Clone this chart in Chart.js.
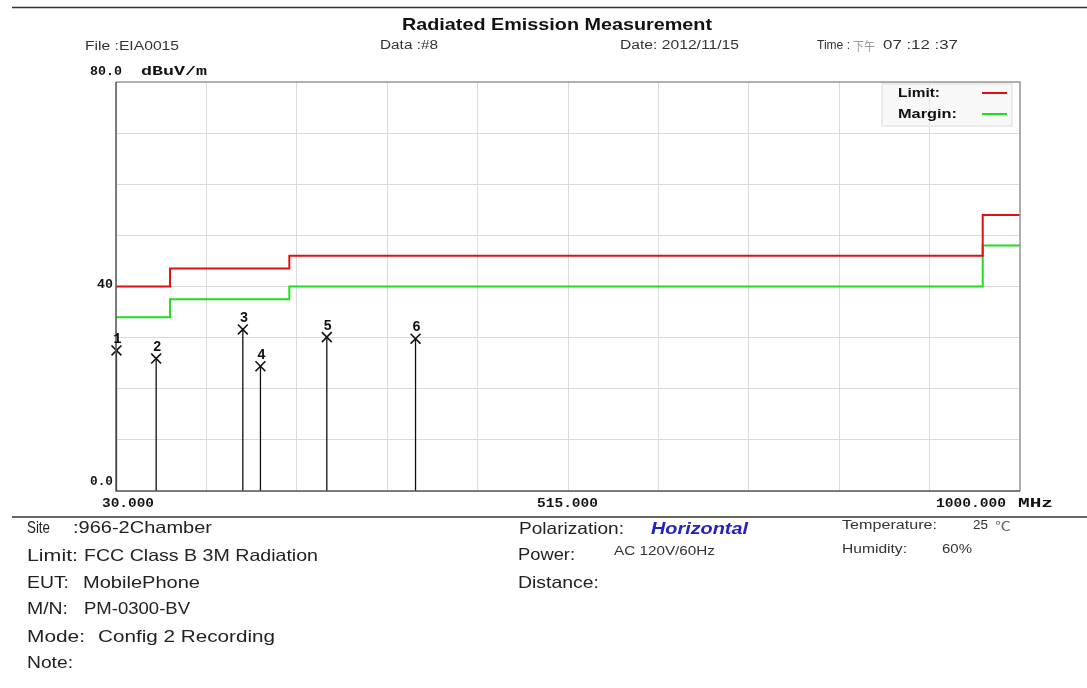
<!DOCTYPE html>
<html>
<head>
<meta charset="utf-8">
<script src="https://cdn.jsdelivr.net/npm/chart.js@4.4.1/dist/chart.umd.min.js"></script>
<style>
  html, body { margin: 0; padding: 0; background: #fff; }
</style>
</head>
<body>
<canvas id="chart" width="1087" height="688"></canvas>
<script>
// limit lines (FCC class B, 3 m) - step points
const limitFreq = [30, 88, 216, 960, 1000];
const limitLevel = [40, 43.5, 46, 54, 54];
const marginLevel = [34, 37.5, 40, 48, 48];

// measured peaks
const peakNames = ["1", "2", "3", "4", "5", "6"];
const peakFreq = [30.5, 73.1, 166.1, 185.0, 256.2, 351.4];
const peakLevel = [27.5, 25.9, 31.6, 24.4, 30.1, 29.8];

// axis grid / tick labels
const xGrid = [30, 127, 224, 321, 418, 515, 612, 709, 806, 903, 1000];
const xTickText = ["30.000", "515.000", "1000.000"];
const xTickValue = [30, 515, 1000];
const yTickText = ["0.0", "40", "80.0"];
const yTickValue = [0, 40, 80];

const RED = "#e01010";
const GREEN = "#20dc20";

// draw text squeezed/stretched to a given width
function put(ctx, str, x, y, w, font, color) {
    ctx.save();
    ctx.font = font;
    ctx.fillStyle = color || "#222";
    ctx.textBaseline = "middle";
    ctx.textAlign = "left";
    let m = ctx.measureText(str).width;
    ctx.translate(x, y);
    ctx.scale(w / m, 1);
    ctx.fillText(str, 0, 0);
    ctx.restore();
}

function hline(ctx, x1, x2, y, color, width) {
    ctx.save();
    ctx.strokeStyle = color;
    ctx.lineWidth = width;
    ctx.beginPath();
    ctx.moveTo(x1, y);
    ctx.lineTo(x2, y);
    ctx.stroke();
    ctx.restore();
}

let stems = [];
peakFreq.forEach((f, i) => {
    stems.push({ x: f, y: 0 }, { x: f, y: peakLevel[i] }, { x: f, y: null });
});

const axisFont = "bold 13px 'Liberation Mono'";
const textFont = "16.5px 'Liberation Sans'";
const smallFont = "12.5px 'Liberation Sans'";

const pagePlugin = {
    id: "page",
    afterDatasetsDraw(chart) {
        const ctx = chart.ctx;
        const a = chart.chartArea;

        // frame
        ctx.save();
        ctx.lineWidth = 1.5;
        ctx.strokeStyle = "#9a9a9a";
        ctx.beginPath();
        ctx.moveTo(a.left, a.top); ctx.lineTo(a.right, a.top); ctx.lineTo(a.right, a.bottom);
        ctx.stroke();
        ctx.strokeStyle = "#555";
        ctx.beginPath();
        ctx.moveTo(a.left, a.top); ctx.lineTo(a.left, a.bottom); ctx.lineTo(a.right, a.bottom);
        ctx.stroke();
        ctx.restore();

        // legend box
        ctx.save();
        ctx.fillStyle = "rgba(242,242,242,0.5)";
        ctx.strokeStyle = "#e8e8e8";
        ctx.fillRect(882, a.top + 2, 130, 42);
        ctx.strokeRect(882, a.top + 2, 130, 42);
        ctx.restore();
        chart.data.datasets.slice(0, 2).forEach((ds, i) => {
            let y = 93 + i * 21;
            put(ctx, ds.label + ":", 898, y + 1, i ? 59 : 42, "bold 12.5px 'Liberation Sans'", "#111");
            hline(ctx, 982, 1007, y, ds.borderColor, 2);
        });

        // peak numbers
        const meta = chart.getDatasetMeta(3);
        meta.data.forEach((pt, i) => {
            ctx.save();
            ctx.font = "bold 14px 'Liberation Mono'";
            ctx.fillStyle = "#111";
            ctx.textAlign = "center";
            ctx.textBaseline = "middle";
            ctx.fillText(peakNames[i], pt.x + 1, pt.y - 11);
            ctx.restore();
        });
    },
    afterDraw(chart) {
        const ctx = chart.ctx;
        const xs = chart.scales.x, ys = chart.scales.y;

        // y tick labels
        let py = yTickValue.map(v => ys.getPixelForValue(v));
        put(ctx, yTickText[0], 90, py[0] - 9, 23, axisFont, "#111");
        put(ctx, yTickText[1], 97, py[1] - 2, 16, axisFont, "#111");
        put(ctx, yTickText[2], 90, py[2] - 10, 32, axisFont, "#111");
        put(ctx, "dBuV/m", 141, py[2] - 10, 66, axisFont, "#111");

        // x tick labels
        let px = xTickValue.map(v => xs.getPixelForValue(v));
        let xy = chart.chartArea.bottom + 13;
        put(ctx, xTickText[0], px[0] - 14, xy, 52, axisFont, "#111");
        put(ctx, xTickText[1], px[1] - 31, xy, 61, axisFont, "#111");
        put(ctx, xTickText[2], px[2] - 84, xy, 70, axisFont, "#111");
        put(ctx, "MHz", px[2] - 2, xy, 35, axisFont, "#111");

        // header
        hline(ctx, 12, 1087, 7.5, "#333", 1.5);
        put(ctx, "Radiated Emission Measurement", 402, 25, 310, "bold 16.5px 'Liberation Sans'", "#111");
        put(ctx, "File :EIA0015", 85, 47, 94, smallFont, "#333");
        put(ctx, "Data :#8", 380, 46, 58, smallFont, "#333");
        put(ctx, "Date: 2012/11/15", 620, 46, 119, smallFont, "#333");
        put(ctx, "Time :", 817, 46, 33, smallFont, "#333");
        put(ctx, "下午", 853, 46, 22, "12px 'Noto Sans CJK TC'", "#999");
        put(ctx, "07 :12 :37", 883, 46, 75, smallFont, "#333");

        // footer
        hline(ctx, 12, 1087, 517, "#333", 1.5);
        put(ctx, "Site", 27, 528, 23, textFont);
        put(ctx, ":966-2Chamber", 73, 528, 139, textFont);
        put(ctx, "Limit:", 27, 556, 51, textFont);
        put(ctx, "FCC Class B 3M Radiation", 84, 556, 234, textFont);
        put(ctx, "EUT:", 27, 583, 42, textFont);
        put(ctx, "MobilePhone", 83, 583, 117, textFont);
        put(ctx, "M/N:", 27, 609, 41, textFont);
        put(ctx, "PM-0300-BV", 84, 609, 106, textFont);
        put(ctx, "Mode:", 27, 637, 58, textFont);
        put(ctx, "Config 2 Recording", 98, 637, 177, textFont);
        put(ctx, "Note:", 27, 663, 46, textFont);

        put(ctx, "Polarization:", 519, 529, 105, textFont);
        put(ctx, "Horizontal", 651, 529, 97, "italic bold 16.5px 'Liberation Sans'", "#2222c4");
        put(ctx, "Power:", 518, 555, 57, textFont);
        put(ctx, "AC 120V/60Hz", 614, 552, 101, smallFont, "#333");
        put(ctx, "Distance:", 518, 583, 81, textFont);

        put(ctx, "Temperature:", 842, 526, 95, smallFont, "#333");
        put(ctx, "25", 973, 526, 15, smallFont, "#333");
        put(ctx, "℃", 995, 526, 16, "12px 'Noto Sans CJK TC'", "#666");
        put(ctx, "Humidity:", 842, 550, 65, smallFont, "#333");
        put(ctx, "60%", 942, 550, 30, smallFont, "#333");
    }
};

new Chart(document.getElementById("chart"), {
    type: "line",
    data: {
        datasets: [
            {
                label: "Limit",
                data: limitFreq.map((f, i) => ({ x: f, y: limitLevel[i] })),
                stepped: true, borderColor: RED, borderWidth: 2, pointRadius: 0
            },
            {
                label: "Margin",
                data: limitFreq.map((f, i) => ({ x: f, y: marginLevel[i] })),
                stepped: true, borderColor: GREEN, borderWidth: 2, pointRadius: 0
            },
            {
                label: "Peak lines",
                data: stems,
                borderColor: "#111", borderWidth: 1.3, pointRadius: 0, spanGaps: false
            },
            {
                label: "Peaks",
                data: peakFreq.map((f, i) => ({ x: f, y: peakLevel[i] })),
                showLine: false, pointStyle: "crossRot", pointRadius: 7,
                pointBorderColor: "#111", pointBorderWidth: 1.6, clip: false
            }
        ]
    },
    options: {
        responsive: false,
        devicePixelRatio: 1,
        animation: false,
        layout: { padding: { left: 116, top: 82, right: 67, bottom: 197 } },
        plugins: { legend: { display: false }, tooltip: { enabled: false } },
        scales: {
            x: {
                type: "linear", min: 30, max: 1000,
                afterBuildTicks: s => { s.ticks = xGrid.map(v => ({ value: v })); },
                ticks: { display: false },
                grid: { color: "#dadada", lineWidth: 1, drawTicks: false },
                border: { display: false }
            },
            y: {
                min: 0, max: 80,
                ticks: { display: false, stepSize: 10 },
                grid: { color: "#dadada", lineWidth: 1, drawTicks: false },
                border: { display: false }
            }
        }
    },
    plugins: [pagePlugin]
});
</script>
</body>
</html>
